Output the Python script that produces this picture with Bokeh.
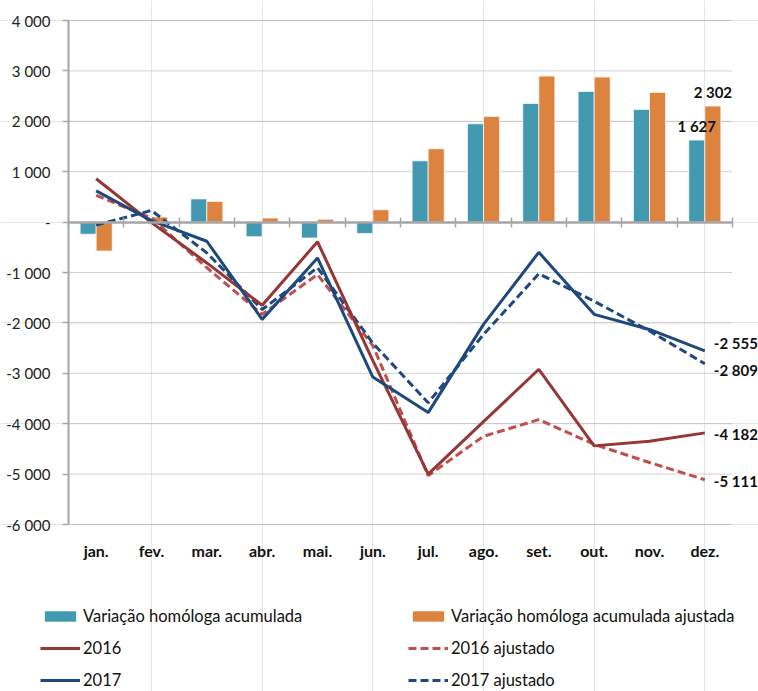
from bokeh.plotting import figure
from bokeh.models import (ColumnDataSource, LinearAxis, FixedTicker, Legend, LegendItem,
                          LabelSet, Range1d)
from bokeh.core.properties import value
from bokeh.transform import dodge
from bokeh.embed import file_html
from bokeh.resources import INLINE

months = ["jan.", "fev.", "mar.", "abr.", "mai.", "jun.", "jul.", "ago.", "set.", "out.", "nov.", "dez."]
var_hom = [-240, -30, 460, -290, -315, -225, 1216, 1950, 2355, 2593, 2236, 1627]
var_hom_aj = [-575, 100, 410, 80, 55, 245, 1455, 2097, 2897, 2877, 2573, 2302]
s2016 = [860, -10, -810, -1650, -390, -2750, -5000, -3960, -2920, -4440, -4350, -4182]
s2016_aj = [530, 80, -905, -1830, -1040, -2450, -5030, -4250, -3920, -4410, -4770, -5111]
s2017 = [620, 30, -380, -1930, -710, -3075, -3780, -2030, -600, -1830, -2130, -2555]
s2017_aj = [-60, 230, -610, -1735, -905, -2400, -3585, -2230, -1025, -1570, -2160, -2809]
y_ticks = [-6000, -5000, -4000, -3000, -2000, -1000, 0, 1000, 2000, 3000, 4000]

FONT = "Lato"
TEAL = "#4399B0"
ORANGE = "#DC843F"
RED = "#953735"
RED_L = "#C0504D"
BLUE = "#1F497D"
GRAY = "#A6A6A6"
TXT = "#111111"


def fmt(v):
    return "-" if v == 0 else f"{v:,}".replace(",", " ")


n = len(months)
xs = list(range(1, n + 1))
src = ColumnDataSource(dict(x=xs, vh=var_hom, vha=var_hom_aj, a=s2016, aa=s2016_aj,
                            b=s2017, ba=s2017_aj))

# page layout (pixels): plot area of the months from x=68..732, y=20..524
W, H = 758, 691
PL, PR, PT, PB = 68, 732, 20, 524
cat_px = (PR - PL) / n
y_px = (PB - PT) / (y_ticks[-1] - y_ticks[0])
x_start = 0.5 - PL / cat_px
x_end = n + 0.5 + (W - PR) / cat_px
y_end = y_ticks[-1] + PT / y_px
y_start = y_ticks[0] - (H - PB) / y_px

p = figure(width=W, height=H, x_range=Range1d(x_start, x_end),
           y_range=Range1d(y_start, y_end), output_backend="svg",
           toolbar_location=None, x_axis_location=None, y_axis_location=None,
           min_border_left=0, min_border_top=0, min_border_right=0, min_border_bottom=0)
p.outline_line_color = None
p.background_fill_color = "white"
p.border_fill_color = "white"

# y axis at the left edge of the month area
yaxis = LinearAxis(fixed_location=0.5, bounds=(y_ticks[0], y_ticks[-1]),
                   ticker=FixedTicker(ticks=y_ticks),
                   major_label_overrides={t: fmt(t) for t in y_ticks},
                   axis_line_color=GRAY, axis_line_width=2,
                   major_tick_line_color=GRAY, major_tick_line_width=1.5,
                   major_tick_in=0, major_tick_out=6, minor_tick_line_color=None,
                   major_label_standoff=12, major_label_text_font=FONT,
                   major_label_text_font_size="15px", major_label_text_color="#222222")
p.add_layout(yaxis, "left")

# month labels below the plot area
maxis = LinearAxis(fixed_location=y_ticks[0], ticker=FixedTicker(ticks=xs),
                   major_label_overrides={x: m for x, m in zip(xs, months)},
                   axis_line_color=None, major_tick_line_color=None,
                   major_tick_in=0, major_tick_out=0, minor_tick_line_color=None,
                   major_label_standoff=16, major_label_text_font=FONT,
                   major_label_text_font_style="bold", major_label_text_font_size="16px",
                   major_label_text_color=TXT)
p.add_layout(maxis, "below")

# dotted gridlines limited to the month area
grid_vals = [t for t in y_ticks if t != 0]
grid_src = ColumnDataSource(dict(y=grid_vals, x0=[0.5] * len(grid_vals),
                                 x1=[n + 0.5] * len(grid_vals)))
p.segment(x0="x0", x1="x1", y0="y", y1="y", source=grid_src,
          line_color="#A0A0A0", line_width=1, line_dash="1 1")

bw = 0.29
r_vh = p.vbar(x=dodge("x", -0.145, range=p.x_range), top="vh", bottom=0, width=bw, source=src,
              fill_color=TEAL, line_color="white", line_width=1, line_alpha=0.7)
r_vha = p.vbar(x=dodge("x", 0.145, range=p.x_range), top="vha", bottom=0, width=bw, source=src,
               fill_color=ORANGE, line_color="white", line_width=1, line_alpha=0.7)

# zero axis with ticks at month boundaries
bounds_ticks = [i + 0.5 for i in range(0, n + 1)]
zero_axis = LinearAxis(fixed_location=0, bounds=(0.5, n + 0.5),
                       ticker=FixedTicker(ticks=bounds_ticks),
                       major_label_overrides={t: "" for t in bounds_ticks},
                       axis_line_color=GRAY, axis_line_width=2.5,
                       major_tick_line_color=GRAY, major_tick_line_width=1.5,
                       major_tick_in=5, major_tick_out=5, major_label_standoff=0,
                       minor_tick_line_color=None)
p.add_layout(zero_axis, "below")

r_aa = p.line("x", "aa", source=src, line_color=RED_L, line_width=3, line_dash="8 4")
r_ba = p.line("x", "ba", source=src, line_color=BLUE, line_width=3, line_dash="8 4")
r_a = p.line("x", "a", source=src, line_color=RED, line_width=3)
r_b = p.line("x", "b", source=src, line_color=BLUE, line_width=3)

# labels on the last pair of bars
bar_lab = ColumnDataSource(dict(
    x=[n - 0.145, n + 0.145],
    y=[var_hom[-1], var_hom_aj[-1]],
    t=[fmt(var_hom[-1]), fmt(var_hom_aj[-1])]))
p.add_layout(LabelSet(x="x", y="y", text="t", source=bar_lab, text_align="center",
                      text_baseline="bottom", y_offset=5, text_font=value(FONT),
                      text_font_style="bold", text_font_size="15px", text_color=TXT))

# labels at the end of the lines
end_lab = ColumnDataSource(dict(
    x=[n] * 4,
    y=[s2017[-1], s2017_aj[-1], s2016[-1], s2016_aj[-1]],
    t=[fmt(s2017[-1]), fmt(s2017_aj[-1]), fmt(s2016[-1]), fmt(s2016_aj[-1])],
    dy=[8, -6, -1, -1]))
p.add_layout(LabelSet(x="x", y="y", text="t", source=end_lab, text_align="left",
                      text_baseline="middle", x_offset=9, y_offset="dy", text_font=value(FONT),
                      text_font_style="bold", text_font_size="15px", text_color=TXT))

legend = Legend(items=[
    LegendItem(label="Variação homóloga acumulada", renderers=[r_vh]),
    LegendItem(label="Variação homóloga acumulada ajustada", renderers=[r_vha]),
    LegendItem(label="2016", renderers=[r_a]),
    LegendItem(label="2016 ajustado", renderers=[r_aa]),
    LegendItem(label="2017", renderers=[r_b]),
    LegendItem(label="2017 ajustado", renderers=[r_ba]),
], location=(40, 1), orientation="horizontal", ncols=2,
    glyph_width=40, glyph_height=14, label_standoff=3, label_width=313,
    label_height=15, spacing=12, padding=0, margin=0,
    label_text_font=FONT, label_text_font_size="16.5px", label_text_color=TXT,
    background_fill_alpha=0, border_line_color=None)
p.add_layout(legend, "center")

open("out.html", "w").write(file_html(p, INLINE))
